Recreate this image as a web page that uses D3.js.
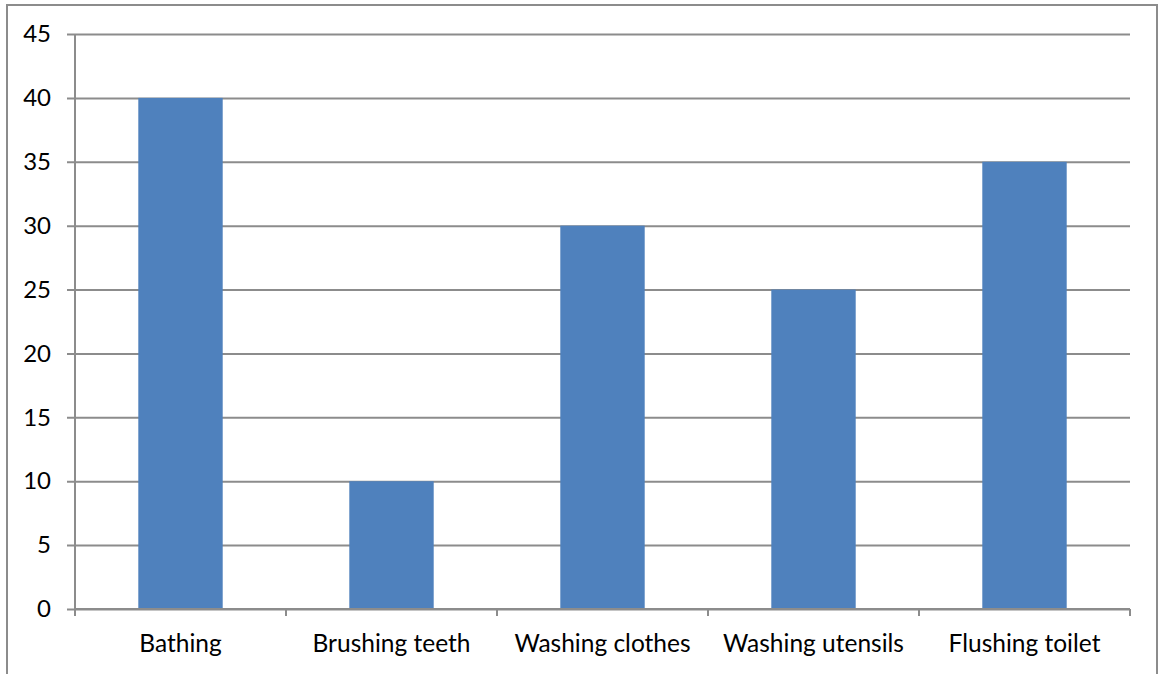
<!DOCTYPE html>
<html>
<head>
<meta charset="utf-8">
<script src="https://cdn.jsdelivr.net/npm/d3@7"></script>
<style>
  body { margin: 0; background: #fff; }
  svg { display: block; }
</style>
</head>
<body>
<svg id="chart" width="1160" height="674"></svg>
<script>
// Chart data
var categories = ["Bathing", "Brushing teeth", "Washing clothes", "Washing utensils", "Flushing toilet"];
var values = [40, 10, 30, 25, 35];
var yTicks = [0, 5, 10, 15, 20, 25, 30, 35, 40, 45];

var svg = d3.select("#chart");
var fontFam = "Lato, 'Open Sans', sans-serif";
var plotLeft = 75, plotRight = 1130, plotTop = 34, plotBottom = 609;

// outer frame (no bottom edge visible)
svg.append("path")
  .attr("d", "M7,674 V5 H1157 V674")
  .attr("fill", "none")
  .attr("stroke", "#8c8c8c")
  .attr("stroke-width", 2);

var x = d3.scaleBand().domain(categories).range([plotLeft, plotRight]).paddingInner(0).paddingOuter(0);
var y = d3.scaleLinear().domain([0, 45]).range([plotBottom, plotTop]);

// gridlines + y ticks
var yAxis = d3.axisLeft(y).tickValues(yTicks).tickSize(-(plotRight - plotLeft)).tickSizeOuter(0).tickPadding(24);
var gy = svg.append("g").attr("transform", "translate(" + plotLeft + ",0)").call(yAxis);
gy.attr("font-family", fontFam);
gy.select(".domain").remove();
gy.selectAll(".tick line")
  .attr("x1", -8)
  .attr("stroke", "#8c8c8c").attr("stroke-width", 2);
gy.selectAll(".tick text").attr("font-size", 24).attr("fill", "#000");

// vertical axis line
svg.append("line")
  .attr("x1", plotLeft).attr("x2", plotLeft).attr("y1", plotTop).attr("y2", plotBottom + 6)
  .attr("stroke", "#8c8c8c").attr("stroke-width", 2);

// bars
var barW = x.bandwidth() * 0.4;
svg.selectAll("rect.bar")
  .data(values)
  .enter()
  .append("rect")
  .attr("class", "bar")
  .attr("x", (d, i) => x(categories[i]) + (x.bandwidth() - barW) / 2)
  .attr("width", barW)
  .attr("y", d => y(d))
  .attr("height", d => plotBottom - y(d))
  .attr("fill", "#4f81bd");

// x axis
var xAxis = d3.axisBottom(x).tickSize(0).tickPadding(26);
var gx = svg.append("g").attr("transform", "translate(0," + plotBottom + ")").call(xAxis);
gx.attr("font-family", fontFam);
gx.select(".domain").remove();
gx.selectAll(".tick text").attr("font-size", 24.5).attr("fill", "#000");

svg.append("line")
  .attr("x1", plotLeft).attr("x2", plotRight).attr("y1", plotBottom).attr("y2", plotBottom)
  .attr("stroke", "#8c8c8c").attr("stroke-width", 2);

// category boundary ticks
var bounds = categories.map(c => x(c)).concat([plotRight]);
svg.selectAll("line.xtick")
  .data(bounds)
  .enter()
  .append("line")
  .attr("class", "xtick")
  .attr("x1", d => d).attr("x2", d => d)
  .attr("y1", plotBottom).attr("y2", plotBottom + 7)
  .attr("stroke", "#8c8c8c").attr("stroke-width", 2);
</script>
</body>
</html>
